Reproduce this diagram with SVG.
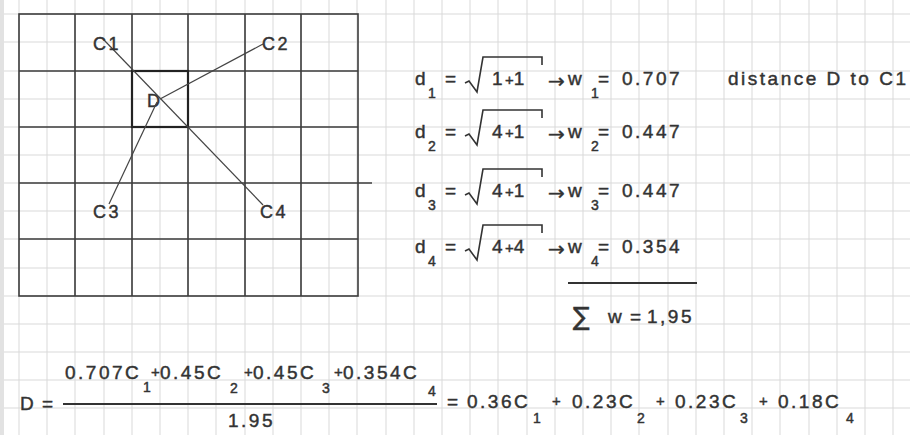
<svg xmlns="http://www.w3.org/2000/svg" width="910" height="435" viewBox="0 0 910 435">
<style>
.bg{fill:#ffffff}
.strip{fill:#e2e2e2}
.light{stroke:#d9d9d9;stroke-width:1;fill:none}
.bold{stroke:#3c3c3c;stroke-width:1.6;fill:none}
.sq{stroke:#222;stroke-width:2.2;fill:none}
.conn{stroke:#444;stroke-width:1.2;fill:none}
.rule{stroke:#333;stroke-width:1.8;fill:none}
.root{stroke:#333;stroke-width:1.6;fill:none;stroke-linejoin:miter}
text{font-family:"Liberation Sans",Arial,sans-serif;fill:#333;stroke:#333;stroke-width:0.45px;font-size:19px;letter-spacing:2.5px}
.lbl{font-size:18px;letter-spacing:2.5px}
.sub{font-size:14px;letter-spacing:0}
.pl{font-size:15px;letter-spacing:0}
.arr{font-family:"DejaVu Sans",sans-serif;font-size:20px;letter-spacing:0}
.sig{font-family:"DejaVu Sans",sans-serif;font-size:25px;letter-spacing:0}
</style>
<rect class="bg" x="0" y="0" width="910" height="435"/>
<rect class="strip" x="0" y="0" width="4" height="435"/>
<g id="paper-grid">
<path class="light" d="M19,0V435M47,0V435M75,0V435M104,0V435M132,0V435M160,0V435M188,0V435M216,0V435M245,0V435M273,0V435M301,0V435M329,0V435M357,0V435M386,0V435M414,0V435M442,0V435M470,0V435M498,0V435M527,0V435M555,0V435M583,0V435M611,0V435M639,0V435M668,0V435M696,0V435M724,0V435M752,0V435M780,0V435M809,0V435M837,0V435M865,0V435M893,0V435"/>
<path class="light" d="M4,14H910M4,42H910M4,71H910M4,99H910M4,127H910M4,155H910M4,183H910M4,211H910M4,239H910M4,268H910M4,296H910M4,324H910M4,352H910M4,380H910M4,408H910"/>
</g>
<g id="cell-grid">
<rect class="bold" x="19" y="14" width="339" height="282"/>
<path class="bold" d="M75,14V296M132,14V296M188,14V296M245,14V296M301,14V296M19,71H358M19,127H358M19,183H372M19,239H358"/>
</g>
<g id="node-D">
<rect class="sq" x="132" y="71" width="56" height="56"/>
<text class="lbl" x="147" y="107">D</text>
</g>
<g id="connectors">
<line class="conn" x1="104" y1="40" x2="263" y2="205"/>
<line class="conn" x1="160" y1="99" x2="263" y2="44"/>
<line class="conn" x1="157" y1="102" x2="109" y2="204"/>
</g>
<g id="node-C1"><text class="lbl" x="93" y="50">C1</text></g>
<g id="node-C2"><text class="lbl" x="262" y="50">C2</text></g>
<g id="node-C3"><text class="lbl" x="93" y="218">C3</text></g>
<g id="node-C4"><text class="lbl" x="260" y="218">C4</text></g>

<g id="eq-d1">
<text x="415" y="85">d</text><text class="sub" x="428" y="98">1</text>
<text x="445" y="85">=</text>
<path class="root" d="M465,83L469,81L477,92L483,57H542V65"/>
<text x="492" y="85">1<tspan class="pl">+</tspan>1</text>
<text class="arr" x="548" y="88">→</text>
<text x="568" y="85">w</text><text class="sub" x="591" y="98">1</text>
<text x="598" y="85">=</text><text x="622" y="85">0.707</text>
<text x="728" y="85">distance D to C1</text>
</g>
<g id="eq-d2">
<text x="415" y="138">d</text><text class="sub" x="428" y="151">2</text>
<text x="445" y="138">=</text>
<path class="root" d="M465,136L469,134L477,145L483,110H542V118"/>
<text x="492" y="138">4<tspan class="pl">+</tspan>1</text>
<text class="arr" x="548" y="141">→</text>
<text x="568" y="138">w</text><text class="sub" x="591" y="151">2</text>
<text x="598" y="138">=</text><text x="622" y="138">0.447</text>
</g>
<g id="eq-d3">
<text x="415" y="197">d</text><text class="sub" x="428" y="210">3</text>
<text x="445" y="197">=</text>
<path class="root" d="M465,195L469,193L477,204L483,169H542V177"/>
<text x="492" y="197">4<tspan class="pl">+</tspan>1</text>
<text class="arr" x="548" y="200">→</text>
<text x="568" y="197">w</text><text class="sub" x="591" y="210">3</text>
<text x="598" y="197">=</text><text x="622" y="197">0.447</text>
</g>
<g id="eq-d4">
<text x="415" y="253">d</text><text class="sub" x="428" y="266">4</text>
<text x="445" y="253">=</text>
<path class="root" d="M465,251L469,249L477,260L483,225H542V233"/>
<text x="492" y="253">4<tspan class="pl">+</tspan>4</text>
<text class="arr" x="548" y="256">→</text>
<text x="568" y="253">w</text><text class="sub" x="591" y="266">4</text>
<text x="598" y="253">=</text><text x="622" y="253">0.354</text>
</g>
<g id="eq-sum">
<line class="rule" x1="568" y1="283" x2="697" y2="283"/>
<text class="sig" x="573" y="325">∑</text>
<text x="608" y="323">w</text><text x="630" y="323">=</text><text x="647" y="323">1,95</text>
</g>
<g id="eq-D">
<text x="20" y="410">D</text><text x="42" y="410">=</text>
<text x="65" y="379">0.707C</text><text class="sub" x="143" y="392">1</text>
<text class="pl" x="151" y="377">+</text><text x="160" y="379">0.45C</text><text class="sub" x="230" y="393">2</text>
<text class="pl" x="244" y="377">+</text><text x="253" y="379">0.45C</text><text class="sub" x="322" y="393">3</text>
<text class="pl" x="334" y="377">+</text><text x="343" y="379">0.354C</text><text class="sub" x="428" y="396">4</text>
<line class="rule" x1="63" y1="404" x2="437" y2="404"/>
<text x="228" y="427">1.95</text>
<text x="447" y="408">=</text>
<text x="467" y="408">0.36C</text><text class="sub" x="533" y="423">1</text>
<text class="pl" x="552" y="406">+</text>
<text x="572" y="408">0.23C</text><text class="sub" x="637" y="423">2</text>
<text class="pl" x="656" y="406">+</text>
<text x="675" y="408">0.23C</text><text class="sub" x="740" y="423">3</text>
<text class="pl" x="759" y="406">+</text>
<text x="778" y="408">0.18C</text><text class="sub" x="846" y="423">4</text>
</g>
</svg>
